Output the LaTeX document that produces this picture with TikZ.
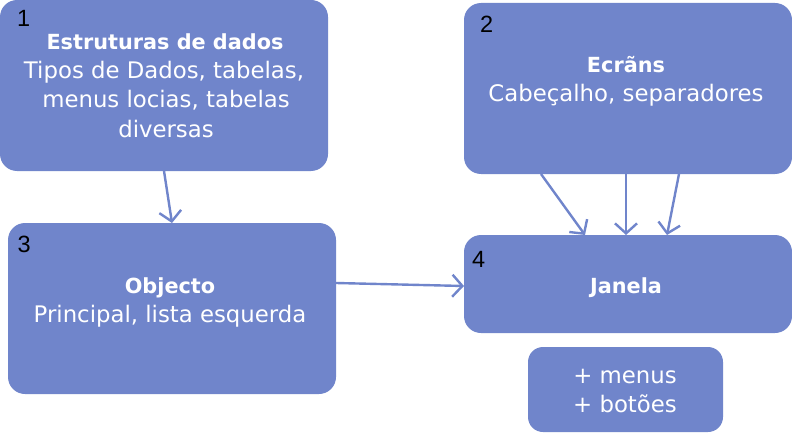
\documentclass[tikz,border=0pt]{standalone}
\usepackage{fontspec}
\setmainfont{DejaVu Sans}
\newfontfamily\numfont{Liberation Sans}
\usetikzlibrary{arrows.meta}
\definecolor{boxc}{HTML}{7085CB}
\tikzset{
  box/.style={fill=boxc, draw=none, rounded corners=17pt, inner sep=0pt, outer sep=0pt},
  txt/.style={text=white, font=\fontsize{22.8}{26}\selectfont, anchor=base, inner sep=0pt},
  ttl/.style={text=white, font=\fontsize{20.8}{24}\selectfont\bfseries, anchor=base, inner sep=0pt},
  num/.style={text=black, font=\numfont\fontsize{23.5}{26}\selectfont, anchor=base west, inner sep=0pt},
  arr/.style={draw=boxc, line width=2.4pt, -{Straight Barb[length=10pt,width=22pt,line width=2.4pt]}}
}
\begin{document}
\begin{tikzpicture}[x=1pt,y=-1pt]
\useasboundingbox (0,0) rectangle (792,433);
% boxes
\node[box, minimum width=328pt, minimum height=171pt] (b1) at (164,85.5) {};
\node[box, minimum width=328pt, minimum height=171pt] (b2) at (628,88.5) {};
\node[box, minimum width=328pt, minimum height=171pt] (b3) at (172,308.5) {};
\node[box, minimum width=328pt, minimum height=98pt] (b4) at (628,284) {};
\node[box, minimum width=195pt, minimum height=85pt, rounded corners=15pt] (b5) at (625.5,389.5) {};
% numbers
\node[num] (n1) at (17,27) {1};
\node[num] (n2) at (480,33) {2};
\node[num] (n3) at (17.5,252) {3};
\node[num] (n4) at (472,267) {4};
% texts
\node[ttl] (t1a) at (165,50) {Estruturas de dados};
\node[txt] (t1b) at (164,79) {Tipos de Dados, tabelas,};
\node[txt] (t1c) at (166,108) {menus locias, tabelas};
\node[txt] (t1d) at (166,137) {diversas};
\node[ttl] (t2a) at (626,73) {Ecrãns};
\node[txt] (t2b) at (626,102) {Cabeçalho, separadores};
\node[ttl] (t3a) at (170,293) {Objecto};
\node[txt] (t3b) at (170,322) {Principal, lista esquerda};
\node[ttl] (t4a) at (626,293) {Janela};
\node[txt] (t5a) at (625,383) {+ menus};
\node[txt] (t5b) at (625,412) {+ botões};
% connectors
\draw[arr] (b1.south) -- (b3.north);
\draw[arr] ([yshift=25.5pt]b3.east) -- ([yshift=-2pt]b4.west);
\draw[arr] ([xshift=-87pt]b2.south) -- ([xshift=-43pt]b4.north);
\draw[arr] ([xshift=-2pt]b2.south) -- ([xshift=-2pt]b4.north);
\draw[arr] ([xshift=51pt]b2.south) -- ([xshift=39pt]b4.north);
\end{tikzpicture}
\end{document}
